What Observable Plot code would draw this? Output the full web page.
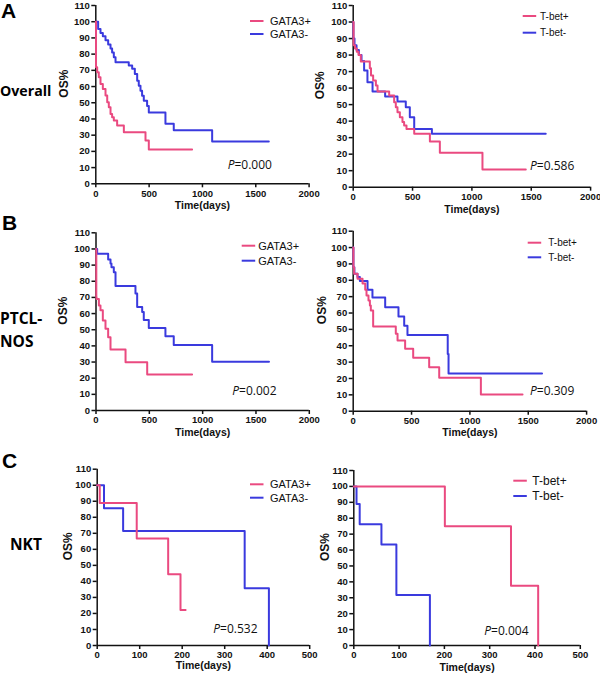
<!DOCTYPE html>
<html><head><meta charset="utf-8">
<script src="https://cdn.jsdelivr.net/npm/d3@7"></script>
<script src="https://cdn.jsdelivr.net/npm/@observablehq/plot@0.6"></script>
<style>
body{margin:0;background:#fff;}
#root{position:relative;width:600px;height:677px;overflow:hidden;background:#fff;}
#root svg{position:absolute;}
</style></head><body><div id="root"></div>
<script>
// ---- data: [time (days), overall survival %] ----
const overallGATA3pos = [[0,100],[2,71.9],[13,68.8],[28,65.7],[44,61.6],[66,58.5],[91,54.4],[107,50.3],[122,47.2],[138,43.1],[153,41.0],[169,39.0],[200,35.9],[263,31.8],[466,26.7],[497,21.1],[903,21.1]];
const overallGATA3neg = [[0,100],[22,95.5],[44,93],[66,91],[91,88.5],[116,86],[138,83.5],[153,81],[169,78],[185,75],[309,73],[341,71],[366,67.7],[388,63.6],[403,60.5],[419,57.4],[434,54.3],[450,51.2],[481,48],[497,44],[653,37],[731,33],[1091,26.1],[1622,26.1]];
const overallTbetPos = [[0,100],[3,86],[15,84],[30,82],[45,80],[64,76.1],[140,72],[150,67.6],[168,64.6],[191,61.6],[205,57.9],[303,55.5],[345,51.5],[359,48.4],[373,45.4],[393,42.4],[415,39.4],[429,37.3],[449,35.3],[514,32.3],[646,27.6],[730,20.8],[1089,10.7],[1454,10.7]];
const overallTbetNeg = [[0,100],[2,90],[11,86],[28,83],[48,80],[70,76.4],[92,70.6],[120,63.6],[163,57.9],[269,54.9],[373,51.9],[443,48.4],[477,42.4],[514,35.3],[663,32.3],[1622,32.3]];
const ptclGATA3pos = [[0,100],[3,70.2],[5,69],[27,65],[42,62],[64,55.7],[89,50.6],[114,45.4],[136,37.8],[277,29.9],[480,22.3],[901,22.3]];
const ptclGATA3neg = [[0,100],[11,97],[114,93.5],[136,91],[145,88.7],[167,85.6],[183,77],[370,72.5],[386,64],[433,61],[448,56],[495,51],[651,46],[729,40.5],[1089,30.2],[1622,30.2]];
const ptclTbetPos = [[0,100],[2,88],[8,84],[37,81],[80,78],[103,74.2],[114,70.7],[131,67.7],[143,64.6],[151,61.6],[171,51.8],[365,47.3],[380,43.2],[445,38.1],[514,32.6],[651,26.9],[737,20.4],[1094,10.2],[1451,10.2]];
const ptclTbetNeg = [[0,100],[2,88],[10,84],[37,82],[57,79.5],[123,74.2],[165,69.5],[274,63.6],[388,57.9],[437,52.2],[465,46.5],[810,35],[817,23.1],[1618,23.1]];
const nktGATA3pos = [[0,100],[6,88.9],[93,66.7],[167,44.4],[196,22.2],[208,22.2]];
const nktGATA3neg = [[0,100],[16,85.7],[61,71.4],[347,35.7],[404,0]];
const nktTbetPos = [[0,100],[201,75],[347,37.5],[407,0]];
const nktTbetNeg = [[0,100],[6,88.9],[13,76.2],[61,63.5],[94,31.7],[168,0]];

const yTicks = [0,10,20,30,40,50,60,70,80,90,100,110];
const xTicksLong = [0,500,1000,1500,2000];
const xTicksShort = [0,100,200,300,400,500];
const gataNames = ["GATA3+","GATA3-"];
const tbetNames = ["T-bet+","T-bet-"];
const pValues = ["0.000","0.586","0.002","0.309","0.532","0.004"];
const rowLetters = ["A","B","C"];
const rowNames = [["Overall"],["PTCL-","NOS"],["NKT"]];
const xTitle = "Time(days)", yTitle = "OS%";

const pink = "#ea4a80", blue = "#3a3ade";

// ---- layout ----
const panels = [
  {left:0,  top:0,   width:320, height:220, x0:95.3,  x1:308.6, yTop:5,     yBot:183.3, xMax:2000, ticks:xTicksLong,  pos:overallGATA3pos, neg:overallGATA3neg, xDy:25,   yDx:-32,
   names:gataNames, lx:250, ly:[21,34], tx:270, lfs:11, p:pValues[0], px:227.7, py:164.3},
  {left:300,top:0,   width:300, height:220, x0:352.7, x1:590.1, yTop:5,     yBot:186.7, xMax:2000, ticks:xTicksLong,  pos:overallTbetPos,  neg:overallTbetNeg,  xDy:25.3, yDx:-32.7,
   names:tbetNames, lx:522.7, ly:[16,32.7], tx:540, lfs:10, p:pValues[1], px:530, py:166},
  {left:0,  top:220, width:320, height:225, x0:95.5,  x1:308.8, yTop:232.3, yBot:410,   xMax:2000, ticks:xTicksLong,  pos:ptclGATA3pos,    neg:ptclGATA3neg,    xDy:25,   yDx:-32.5,
   names:gataNames, lx:241.7, ly:[245.7,260.7], tx:258.3, lfs:11, p:pValues[2], px:232.3, py:390.7},
  {left:300,top:220, width:300, height:225, x0:352.7, x1:586.1, yTop:230.7, yBot:410.7, xMax:2000, ticks:xTicksLong,  pos:ptclTbetPos,     neg:ptclTbetNeg,     xDy:24.3, yDx:-30.7,
   names:tbetNames, lx:527.7, ly:[242.7,257.3], tx:548.3, lfs:10, p:pValues[3], px:530, py:390.7},
  {left:0,  top:450, width:320, height:227, x0:96.7,  x1:309.2, yTop:468.7, yBot:645,   xMax:500,  ticks:xTicksShort, pos:nktGATA3pos,     neg:nktGATA3neg,     xDy:23.5, yDx:-28.7,
   names:gataNames, lx:250, ly:[484.3,497.7], tx:270, lfs:11, p:pValues[4], px:213.3, py:629},
  {left:300,top:450, width:300, height:227, x0:353.3, x1:579.8, yTop:470,   yBot:645,   xMax:500,  ticks:xTicksShort, pos:nktTbetPos,      neg:nktTbetNeg,      xDy:25,   yDx:-28.3,
   names:tbetNames, lx:513.3, ly:[480.7,496], tx:532.3, lfs:12, p:pValues[5], px:484.3, py:630.7}
];

const root = document.getElementById("root");
const toObj = arr => arr.map(([t,s]) => ({t, s}));

for (const c of panels) {
  const svg = Plot.plot({
    width: c.width, height: c.height,
    marginLeft: c.x0 - c.left, marginRight: c.left + c.width - c.x1,
    marginTop: c.yTop - c.top, marginBottom: c.top + c.height - c.yBot,
    style: "background: transparent; overflow: visible; max-width: none; font-family: 'Liberation Sans', Arial, sans-serif; font-size: 9.5px; font-weight: bold; color: #111;",
    x: {domain: [0, c.xMax]},
    y: {domain: [0, 110]},
    marks: [
      Plot.ruleX([0], {y1: 0, y2: 110, stroke: "#111", strokeWidth: 1.5}),
      Plot.ruleY([0], {x1: 0, x2: c.xMax, stroke: "#111", strokeWidth: 1.5}),
      Plot.axisY({ticks: yTicks, tickFormat: "d", tickSize: 4, tickPadding: 2, label: null, strokeWidth: 1.5}),
      Plot.axisX({ticks: c.ticks, tickFormat: "d", tickSize: 4, tickPadding: 2, label: null, strokeWidth: 1.5}),
      Plot.line(toObj(c.neg), {x: "t", y: "s", curve: "step-after", stroke: blue, strokeWidth: 2}),
      Plot.line(toObj(c.pos), {x: "t", y: "s", curve: "step-after", stroke: pink, strokeWidth: 2}),
      Plot.text([xTitle], {text: d => d, frameAnchor: "bottom", dy: c.xDy, fontSize: 10.5, fontWeight: "bold"}),
      Plot.text([yTitle], {text: d => d, frameAnchor: "left", dx: c.yDx, dy: 3, rotate: -90, fontSize: 12, fontWeight: "bold"})
    ]
  });
  svg.style.left = c.left + "px";
  svg.style.top = c.top + "px";
  root.appendChild(svg);
}

// ---- overlay: row labels, legends, P values ----
const ov = d3.select(root).append("svg")
  .attr("width", 600).attr("height", 677)
  .style("left", "0px").style("top", "0px").style("pointer-events", "none");

const letterPos = [[1,18],[2,230],[2,468]];
rowLetters.forEach((L, i) => {
  ov.append("text").attr("x", letterPos[i][0]).attr("y", letterPos[i][1])
    .attr("font-family", "'Liberation Sans', Arial, sans-serif").attr("font-weight", "bold")
    .attr("font-size", 21).text(L);
});
const namePos = [[[0,96,14.2]],[[0,324,15.5],[0,347,15.5]],[[10,550,15.5]]];
rowNames.forEach((lines, i) => {
  lines.forEach((s, j) => {
    ov.append("text").attr("x", namePos[i][j][0]).attr("y", namePos[i][j][1])
      .attr("font-family", "'Open Sans', sans-serif").attr("font-weight", "bold")
      .attr("font-size", namePos[i][j][2]).text(s);
  });
});

for (const c of panels) {
  [pink, blue].forEach((col, k) => {
    ov.append("line").attr("x1", c.lx).attr("x2", c.lx + 13.5)
      .attr("y1", c.ly[k]).attr("y2", c.ly[k]).attr("stroke", col).attr("stroke-width", 2);
    ov.append("text").attr("x", c.tx).attr("y", c.ly[k]).attr("dy", "0.36em")
      .attr("font-family", "'Liberation Sans', Arial, sans-serif").attr("font-size", c.lfs)
      .attr("fill", "#111").text(c.names[k]);
  });
  const t = ov.append("text").attr("x", c.px).attr("y", c.py).attr("dy", "0.36em")
    .attr("font-family", "'Open Sans', sans-serif").attr("font-size", 12).attr("fill", "#111");
  t.append("tspan").attr("font-style", "italic").text("P");
  t.append("tspan").text("=" + c.p);
}
</script></body></html>
